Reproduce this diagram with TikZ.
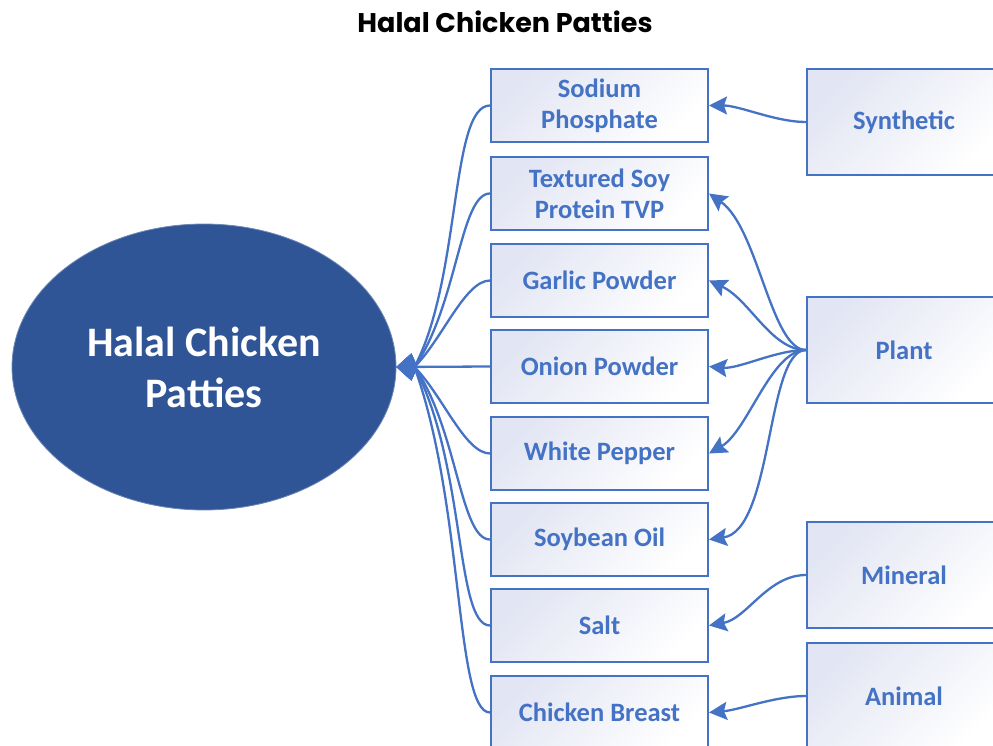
\documentclass[tikz,border=0pt]{standalone}
\usepackage{fontspec}
\setmainfont{Carlito}
\newfontfamily\titlefont{Poppins}
\usetikzlibrary{shapes.geometric,arrows.meta}
\definecolor{lineblue}{HTML}{4472C4}
\definecolor{ovalblue}{HTML}{2F5597}
\definecolor{boxtint}{HTML}{E2E5F3}

\begin{document}
\begin{tikzpicture}[x=1pt,y=1pt,
	item/.style={rectangle, draw=lineblue, line width=2pt, top color=boxtint, bottom color=white, shading angle=45, text=lineblue, font=\fontsize{26.5}{31}\selectfont\bfseries, align=center, minimum width=217pt, minimum height=73pt, inner sep=0pt},
	source/.style={item, minimum width=194pt, minimum height=106pt},
	feed/.style={lineblue, line width=2.3pt, -{Kite[length=21pt,width=27pt,inset=6pt]}},
	supply/.style={lineblue, line width=2.3pt, -{Stealth[length=18pt,width=18pt,inset=3pt]}}]
		\useasboundingbox (0,0) rectangle (993,-746);
		\path (505,-22) node(title)[font=\titlefont\fontsize{27}{32}\selectfont\bfseries]{Halal Chicken Patties}
		(204,-367) node(patties)[ellipse, fill=ovalblue, draw=ovalblue!70!white, line width=0.8pt, minimum width=384pt, minimum height=286pt, inner sep=0pt, text=white, align=center, font=\fontsize{42}{51}\selectfont\bfseries]{Halal Chicken\\Patties};
		\path (599.5,-105.5) node(sodium)[item]{Sodium\\Phosphate}
		(599.5,-193.5) node(tvp)[item]{Textured Soy\\Protein TVP}
		(599.5,-280.5) node(garlic)[item]{Garlic Powder}
		(599.5,-366.5) node(onion)[item]{Onion Powder}
		(599.5,-453.5) node(pepper)[item]{White Pepper}
		(599.5,-539.5) node(oil)[item]{Soybean Oil}
		(599.5,-625.5) node(salt)[item]{Salt}
		(599.5,-712.5) node(breast)[item]{Chicken Breast};
		\path (904,-122) node(synthetic)[source]{Synthetic}
		(904,-350) node(plant)[source]{Plant}
		(904,-575) node(mineral)[source]{Mineral}
		(904,-696) node(animal)[source]{Animal};
		\draw[feed] (sodium.west) to[out=180, in=62, out distance=40pt, in distance=100pt] ([xshift=18pt]patties.east) -- (patties.east);
		\draw[feed] (tvp.west) to[out=180, in=55, out distance=30pt, in distance=75pt] ([xshift=18pt]patties.east) -- (patties.east);
		\draw[feed] (garlic.west) to[out=180, in=45, out distance=25pt, in distance=40pt] ([xshift=18pt]patties.east) -- (patties.east);
		\draw[feed] (onion.west) -- (patties.east);
		\draw[feed] (pepper.west) to[out=180, in=-45, out distance=25pt, in distance=40pt] ([xshift=18pt]patties.east) -- (patties.east);
		\draw[feed] (oil.west) to[out=180, in=-55, out distance=30pt, in distance=75pt] ([xshift=18pt]patties.east) -- (patties.east);
		\draw[feed] (salt.west) to[out=180, in=-62, out distance=35pt, in distance=110pt] ([xshift=18pt]patties.east) -- (patties.east);
		\draw[feed] (breast.west) to[out=180, in=-70, out distance=35pt, in distance=145pt] ([xshift=18pt]patties.east) -- (patties.east);
		\draw[supply] (synthetic.west) to[out=180, in=0, looseness=0.8] (sodium.east);
		\draw[supply] (plant.west) to[out=180, in=-35, out distance=35pt, in distance=60pt] (tvp.east);
		\draw[supply] (plant.west) to[out=180, in=-25, out distance=35pt, in distance=45pt] (garlic.east);
		\draw[supply] (plant.west) to[out=180, in=-5, out distance=30pt, in distance=30pt] (onion.east);
		\draw[supply] (plant.west) to[out=180, in=30, out distance=35pt, in distance=45pt] (pepper.east);
		\draw[supply] (plant.west) to[out=180, in=8, out distance=40pt, in distance=65pt] (oil.east);
		\draw[supply] (mineral.west) to[out=180, in=10, looseness=0.9] (salt.east);
		\draw[supply] (animal.west) to[out=180, in=5, looseness=0.8] (breast.east);
\end{tikzpicture}
\end{document}
